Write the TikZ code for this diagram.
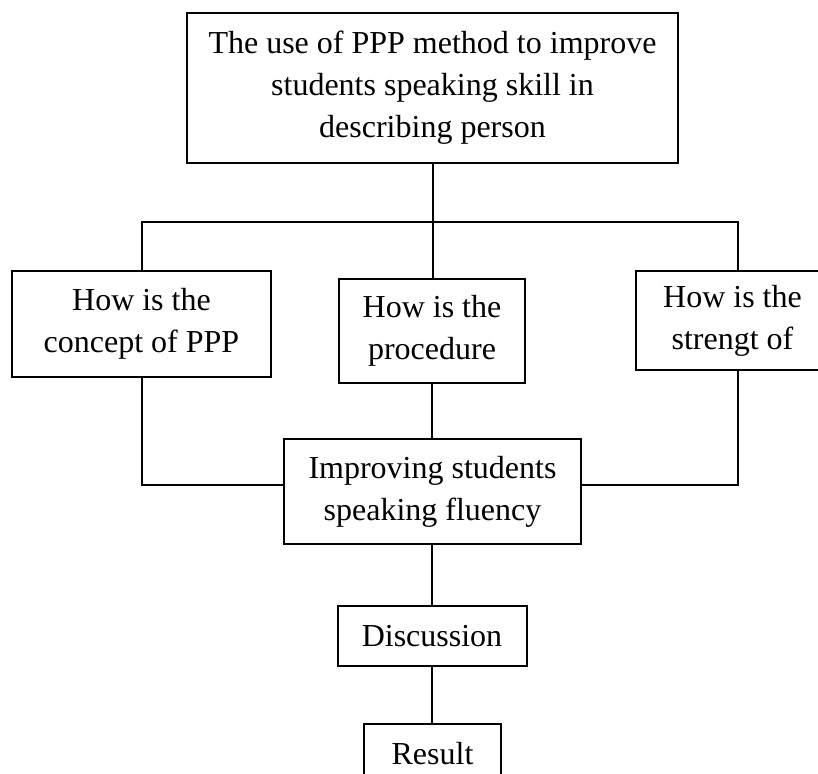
\documentclass[tikz,border=0pt]{standalone}
\usepackage{fontspec}
\setmainfont{Liberation Serif}
\begin{document}
\begin{tikzpicture}[x=0.5pt,y=-0.5pt,
  box/.style={draw, line width=1pt, inner sep=0pt, align=center,
    font=\fontsize{16}{21}\selectfont},
  conn/.style={line width=1pt}]
\clip (0,0) rectangle (818,773);
\node[box, minimum width=245.5pt, minimum height=75pt] (top) at (432.5,88)
  {The use of PPP method to improve\\students speaking skill in\\describing person};
\node[box, minimum width=129.5pt, minimum height=53pt] (lb) at (141.5,324)
  {How is the\\concept of PPP};
\node[box, minimum width=93pt, minimum height=52pt] (mb) at (432,331)
  {How is the\\procedure};
\node[box, minimum width=96.5pt, minimum height=49.5pt] (rb) at (732.5,320.5)
  {How is the\\strengt of};
\node[box, minimum width=148.5pt, minimum height=52.5pt] (imp) at (432.5,491.5)
  {Improving students\\speaking fluency};
\node[box, minimum width=94.5pt, minimum height=30pt] (disc) at (432,636)
  {Discussion};
\node[box, minimum width=68.5pt, minimum height=30pt] (res) at (432.5,754)
  {Result};
\coordinate (jl) at (142,222);
\coordinate (jr) at (738,222);
\coordinate (hl) at (142,485);
\coordinate (hr) at (738,485);
\draw[conn] (top.south) -- (top.south |- mb.north);
\draw[conn] (lb.north -| jl) -- (jl) -- (jr) -- (rb.north -| jr);
\draw[conn] (lb.south -| hl) -- (hl) -- (hl -| imp.west);
\draw[conn] (rb.south -| hr) -- (hr) -- (hr -| imp.east);
\draw[conn] (mb.south) -- (imp.north -| mb.south);
\draw[conn] (imp.south -| mb.south) -- (disc.north -| mb.south);
\draw[conn] (disc.south -| mb.south) -- (res.north -| mb.south);
\end{tikzpicture}
\end{document}
